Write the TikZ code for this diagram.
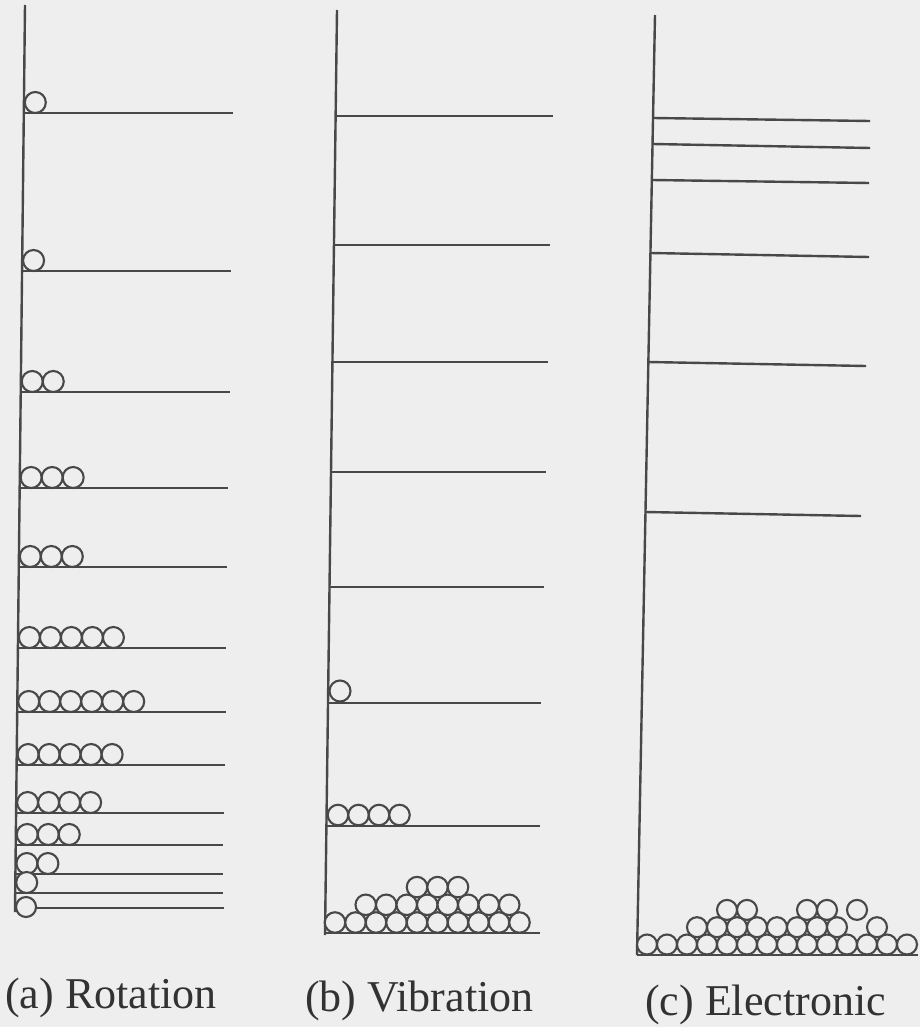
\documentclass[tikz,border=0pt]{standalone}
\usepackage{fontspec}
\setmainfont{Liberation Serif}
\definecolor{bg}{RGB}{238,238,238}
\definecolor{ink}{RGB}{72,72,72}
\definecolor{txt}{RGB}{50,50,50}
\tikzset{
  axis/.style={draw=ink, line width=2.4pt},
  lvl/.style={draw=ink, line width=2.4pt},
  ball/.style={draw=ink, fill=bg, line width=2.1pt},
  lab/.style={anchor=base west, text=txt, inner sep=0pt, font=\fontsize{44}{50}\selectfont}
}
\begin{document}
\begin{tikzpicture}[x=1pt,y=-1pt]
\fill[bg] (0,0) rectangle (920,1027);
\useasboundingbox (0,0) rectangle (920,1027);

% ---------------- (a) Rotation ----------------
\coordinate (atop) at (25,5);
\coordinate (abot) at (15,912);
\draw[axis] (atop) -- (abot);
\foreach \y/\xr/\n in {113/233/1, 271/231/1, 392/230/2, 488/228/3, 567/227/3,
  648/226/5, 712/226/6, 765/225/5, 813/224/4, 845/223/3, 874/223/2, 893/223/1}{
  \pgfmathsetmacro\xl{25-10*(\y-5)/907}
  \draw[lvl] (\xl,\y) -- (\xr,\y);
  \foreach \i in {1,...,\n}{
    \draw[ball] ({\xl+11.5+21*(\i-1)},{\y-10.5}) circle (10.5pt);
  }
}
\pgfmathsetmacro\xlast{25-10*(908-5)/907}
\draw[lvl] (\xlast,908) -- (224,908);
\draw[ball] ({\xlast+11},907) circle (10pt);
\node[lab] (la) at (5,1008) {(a) Rotation};

% ---------------- (b) Vibration ----------------
\coordinate (btop) at (337,10);
\coordinate (bbot) at (325,935);
\draw[axis] (btop) -- (bbot);
\foreach \y/\xr in {116/553, 245/550, 362/548, 472/546, 587/544, 703/541, 826/540}{
  \pgfmathsetmacro\xl{337-12*(\y-10)/925}
  \draw[lvl] (\xl,\y) -- (\xr,\y);
}
\draw[ball] (340,691) circle (10.5pt);
\foreach \i in {0,...,3}{
  \draw[ball] ({338+20.5*\i},815) circle (10.25pt);
}
\draw[lvl] (325,933) -- (540,933);
\foreach \i in {0,...,9}{ \draw[ball] ({335+20.5*\i},922.5) circle (10.25pt); }
\foreach \i in {0,...,7}{ \draw[ball] ({365.75+20.5*\i},904.8) circle (10.25pt); }
\foreach \i in {0,...,2}{ \draw[ball] ({417+20.5*\i},887.1) circle (10.25pt); }
\node[lab] (lb) at (305,1011) {(b) Vibration};

% ---------------- (c) Electronic ----------------
\coordinate (ctop) at (655,15);
\coordinate (cbot) at (637,955);
\draw[axis] (ctop) -- (cbot);
\foreach \yl/\yr/\xr in {118/121/870, 144/148/870, 180/183/869, 253/257/869, 362/366/866, 512/516/861}{
  \pgfmathsetmacro\xl{655-18*(\yl-15)/940}
  \draw[lvl] (\xl,\yl) -- (\xr,\yr);
}
\draw[lvl] (637,955) -- (918,955);
\foreach \i in {0,...,13}{ \draw[ball] ({647+20*\i},944.5) circle (10pt); }
\foreach \i in {0,...,7}{ \draw[ball] ({697+20*\i},927.2) circle (10pt); }
\draw[ball] (877,927.2) circle (10pt);
\foreach \x in {727,747,807,827,857}{ \draw[ball] (\x,909.9) circle (10pt); }
\node[lab] (lc) at (645,1015) {(c) Electronic};
\end{tikzpicture}
\end{document}
